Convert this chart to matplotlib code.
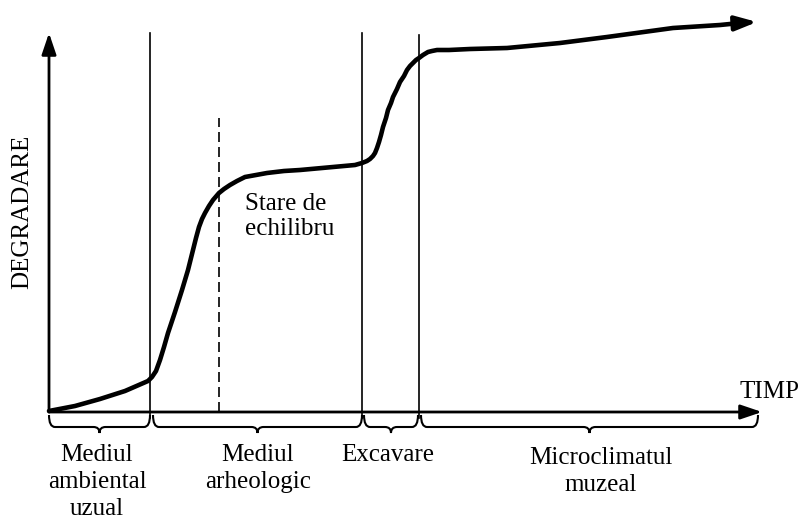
import matplotlib.pyplot as plt
from matplotlib.path import Path
from matplotlib.patches import PathPatch

plt.rcParams['font.family'] = ['Liberation Serif', 'DejaVu Serif']

# degradation curve (time, degradation)
time = [0, 26, 51, 76, 99, 103, 107, 111, 115, 119, 126, 133, 139, 144, 147,
        150, 153, 156, 160, 164, 170, 175, 181, 188, 196, 207, 218, 235, 251,
        284, 306, 313, 318, 321, 324, 326, 328, 330, 332, 334, 337, 339, 342,
        344, 348, 351, 355, 358, 361, 364, 367, 370, 374, 379, 383, 388, 400,
        421, 458, 511, 558, 624, 671, 691]
degr = [1, 6, 13, 21, 31, 35, 41, 52, 65, 79, 100, 122, 142, 162, 174,
        185, 193, 199, 206, 212, 219, 223, 227, 231, 235, 237, 239, 241, 242,
        245, 247, 249, 251, 253, 256, 259, 264, 270, 277, 285, 294, 302, 309,
        315, 323, 330, 336, 342, 346, 349, 352, 354, 357, 360, 361, 362, 362,
        363, 364, 369, 375, 384, 387, 389]
curve_tip = (708, 390)

# phase boundaries
bounds = [101, 313, 370]
bound_tops = [379, 379, 377]
equilibrium = 170
equilibrium_top = 294

# brace spans below the time axis and their labels
spans = [(0, 101), (104, 313), (315, 369), (372, 709)]
span_labels = ['Mediul\nambiental\nuzual', 'Mediul\narheologic', 'Excavare',
               'Microclimatul\nmuzeal']
label_x = [48, 209, 339, 552]
label_top = [-32, -32, -32, -35]

fig = plt.figure(figsize=(8.02, 5.15), dpi=100)
ax = fig.add_axes([0, 0, 1, 1])
ax.set_xlim(-49, 753)
ax.set_ylim(-103, 412)
ax.axis('off')

arrow = dict(arrowstyle='-|>,head_length=0.65,head_width=0.22', color='black',
             shrinkA=0, shrinkB=0, mutation_scale=20)

# axes with arrows
ax.annotate('', xy=(0, 379), xytext=(0, 0), arrowprops=dict(arrow, lw=2.0))
ax.annotate('', xy=(713, 0), xytext=(0, 0), arrowprops=dict(arrow, lw=2.0))

# vertical phase lines
for b, top in zip(bounds, bound_tops):
    ax.plot([b, b], [-6, top], color='black', lw=1.2)
ax.plot([equilibrium, equilibrium], [0, equilibrium_top], color='black',
        lw=1.2, dashes=(6, 3))

# curve
ax.plot(time, degr, color='black', lw=3.3, solid_capstyle='round',
        solid_joinstyle='round')
ax.annotate('', xy=curve_tip, xytext=(time[-1], degr[-1]),
            arrowprops=dict(arrow, lw=3.0))

# braces
def brace(x0, x1):
    xc = (x0 + x1) / 2
    ytip, ymid, ybot, r = -3, -15, -21, 6
    verts = [(x0, ytip), (x0, ymid), (x0 + r, ymid),
             (xc - r, ymid),
             (xc, ymid), (xc, ybot),
             (xc, ymid), (xc + r, ymid),
             (x1 - r, ymid),
             (x1, ymid), (x1, ytip)]
    codes = [Path.MOVETO, Path.CURVE3, Path.CURVE3,
             Path.LINETO,
             Path.CURVE3, Path.CURVE3,
             Path.CURVE3, Path.CURVE3,
             Path.LINETO,
             Path.CURVE3, Path.CURVE3]
    ax.add_patch(PathPatch(Path(verts, codes), fill=False, lw=1.5,
                           color='black'))

for (a, b) in spans:
    brace(a, b)

fs = 18
for txt, x, y in zip(span_labels, label_x, label_top):
    ax.text(x, y, txt, ha='center', va='top', fontsize=fs, linespacing=1.3)

ax.text(-27, 200, 'DEGRADARE', rotation=90, ha='center', va='center',
        fontsize=fs)
ax.text(721, 14, 'TIMP', ha='center', va='baseline', fontsize=fs)
ax.text(196, 219, 'Stare de\nechilibru', ha='left', va='top', fontsize=fs,
        linespacing=1.15)

fig.savefig('out.png', dpi=100)
